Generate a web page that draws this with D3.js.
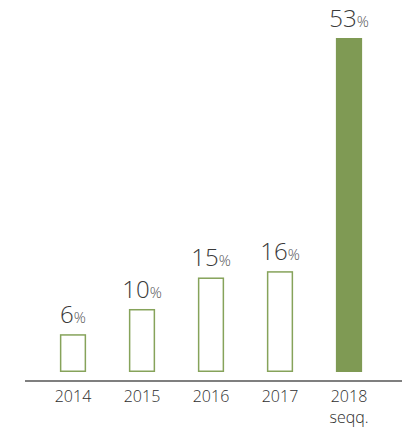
<!DOCTYPE html>
<html>
<head>
<meta charset="utf-8">
<script src="https://cdn.jsdelivr.net/npm/d3@7"></script>
<style>
  body { margin: 0; background: #fff; }
  text { font-family: "Open Sans", sans-serif; }
</style>
</head>
<body>
<div id="chart"></div>
<script>
// data
const years = ["2014", "2015", "2016", "2017", "2018"];
const subLabels = ["", "", "", "", "seqq."];
const shares = [6, 10, 15, 16, 53];
const filled = [false, false, false, false, true];

const width = 413, height = 428;
const baseY = 372, axisY = 381;

const svg = d3.select("#chart")
  .append("svg")
    .attr("width", width)
    .attr("height", height);

const x = d3.scaleBand()
  .domain(years)
  .range([38.5, 383.5])
  .paddingInner(0.62)
  .paddingOuter(0.31);

const y = d3.scaleLinear()
  .domain([0, 53])
  .range([baseY, 38]);

// bars
svg.selectAll("rect.bar")
  .data(years)
  .enter()
  .append("rect")
    .attr("class", "bar")
    .attr("x", (d, i) => x(d) + (filled[i] ? 0 : 0.75))
    .attr("y", (d, i) => y(shares[i]) + (filled[i] ? 0 : 0.75))
    .attr("width", (d, i) => x.bandwidth() - (filled[i] ? 0 : 1.5))
    .attr("height", (d, i) => baseY - y(shares[i]) - (filled[i] ? 0 : 1.5))
    .attr("fill", (d, i) => filled[i] ? "#7f9a54" : "#fff")
    .attr("stroke", (d, i) => filled[i] ? "none" : "#86a35a")
    .attr("stroke-width", 1.5);

// value labels
const lbl = svg.selectAll("text.val")
  .data(years)
  .enter()
  .append("text")
    .attr("class", "val")
    .attr("x", d => x(d) + x.bandwidth() / 2)
    .attr("y", (d, i) => y(shares[i]) - 11)
    .attr("text-anchor", "middle")
    .attr("fill", "#3a3a3a")
    .style("font-weight", 300);
lbl.append("tspan")
  .attr("font-size", "24px")
  .text((d, i) => shares[i]);
lbl.append("tspan")
  .attr("font-size", "15px")
  .attr("fill", "#555")
  .text("%");

// x axis
svg.append("line")
  .attr("x1", 25).attr("x2", 402)
  .attr("y1", axisY).attr("y2", axisY)
  .attr("stroke", "#555")
  .attr("stroke-width", 1.5);

const ax = svg.append("g")
  .attr("transform", "translate(0," + axisY + ")")
  .call(d3.axisBottom(x).tickSize(0).tickPadding(10));
ax.select(".domain").remove();
ax.selectAll(".tick text")
  .attr("font-size", "16px")
  .attr("font-family", "'Open Sans', sans-serif")
  .attr("fill", "#2e2e2e")
  .style("font-weight", 300)
  .each(function(d, i) {
    if (subLabels[i]) {
      d3.select(this).append("tspan")
        .attr("x", 0)
        .attr("dy", "1.3em")
        .text(subLabels[i]);
    }
  });
</script>
</body>
</html>
